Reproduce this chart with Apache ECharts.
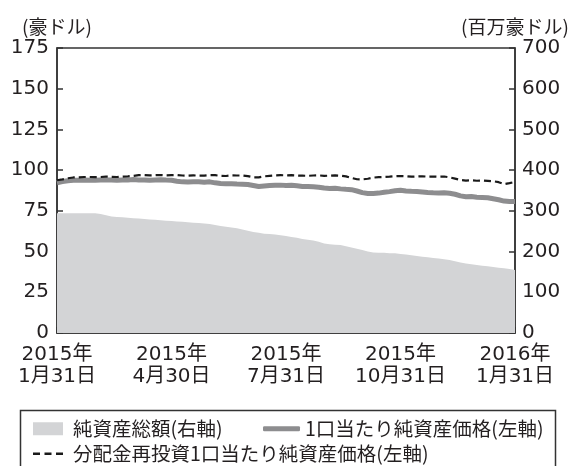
<!DOCTYPE html>
<html><head><meta charset="utf-8">
<script src="https://cdn.jsdelivr.net/npm/echarts@6/dist/echarts.min.js"></script>
<style>html,body{margin:0;padding:0;background:#fff}#c{width:573px;height:466px}</style>
</head><body><div id="c"></div>
<script>
// x positions: 85 observation points from 2015-01-31 to 2016-01-31
const tickLabels = ['2015年\n1月31日','2015年\n4月30日','2015年\n7月31日','2015年\n10月31日','2016年\n1月31日'];
const tickIndex = [0,21,42,63,84];
const categories = [];
for (let i = 0; i < 85; i++) categories.push('p' + i);

// 純資産総額 (右軸, 百万豪ドル)
const netAssets = [294,294,294,294,294,294,294,294,292,289,
  286,285,284,283,282,281,280,279,278,277,
  276,275,274,273,272,271,270,269,268,265,
  263,261,259,257,254,251,248,246,244,243,
  242,240,238,236,234,231,229,227,224,220,
  218,217,216,213,210,207,204,200,198,197,
  197,196,196,194,193,191,189,187,186,184,
  183,181,179,176,173,171,169,167,165,164,
  162,160,159,157,155];
// 1口当たり純資産価格 (左軸, 豪ドル)
const navPerUnit = [92.3,93.0,93.5,93.8,93.8,94.0,93.8,93.8,94.0,94.0,
  94.0,93.8,93.9,94.0,94.2,94.0,94.0,93.8,94.0,94.1,
  93.9,93.8,93.2,92.8,92.7,92.9,92.8,92.6,92.8,92.2,
  91.8,91.6,91.7,91.5,91.4,91.2,90.6,90.0,90.3,90.6,
  90.7,90.8,90.6,90.7,90.4,90.0,89.9,89.8,89.5,89.0,
  88.8,88.9,88.5,88.2,88.0,87.2,86.2,85.7,85.6,85.9,
  86.4,86.8,87.3,87.6,87.2,87.0,86.9,86.6,86.3,86.1,
  86.0,86.1,85.8,85.2,84.2,83.7,83.8,83.4,83.2,83.0,
  82.4,81.8,81.0,80.7,80.8];
// 分配金再投資1口当たり純資産価格 (左軸, 豪ドル)
const navReinvested = [93.8,94.3,95.0,95.5,95.6,95.8,95.8,95.7,95.8,96.0,
  95.9,95.8,96.0,96.2,96.5,96.9,97.0,96.8,96.9,97.0,
  96.8,96.9,97.0,96.7,96.6,96.8,96.6,96.6,96.9,96.9,
  96.5,96.4,96.8,96.7,96.7,96.3,95.6,95.6,96.2,96.5,
  96.8,96.9,96.8,96.9,96.7,96.6,96.5,96.7,96.8,96.5,
  96.6,96.8,96.6,96.2,95.2,94.4,94.3,94.7,95.4,95.7,
  95.8,96.0,96.3,96.4,96.3,96.0,96.1,96.2,96.0,96.1,
  96.0,96.1,95.6,94.8,94.0,93.6,93.8,93.5,93.6,93.4,
  93.2,92.6,91.4,92.0,92.8];

const seriesNames = ['純資産総額(右軸)','1口当たり純資産価格(左軸)','分配金再投資1口当たり純資産価格(左軸)'];

const txt = '#231f20';
const numFont = "'DejaVu Sans','Noto Sans CJK JP',sans-serif";
const cjkFont = "'Noto Sans CJK JP',sans-serif";
const showTick = (idx) => tickIndex.indexOf(idx) >= 0;
const dashIcon = 'path://M0,0h7v2.5h-7z M11.5,0h7v2.5h-7z M23,0h7v2.5h-7z';

const chart = echarts.init(document.getElementById('c'), null, {renderer:'canvas'});
chart.setOption({
  animation: false,
  backgroundColor: '#fff',
  grid: {left:57, right:58, top:48, bottom:133, show:true, borderColor:'#333', borderWidth:1.5, backgroundColor:'transparent'},
  xAxis: {
    type:'category', data:categories, boundaryGap:false,
    axisLine:{lineStyle:{color:'#333', width:1.5}},
    axisTick:{show:true, inside:true, length:6, interval:showTick, lineStyle:{color:'#333', width:1.5}},
    axisLabel:{interval:showTick, margin:11, color:txt, fontFamily:numFont, fontSize:20, lineHeight:22,
      formatter:(v, idx)=>{const k = tickIndex.indexOf(idx); return k>=0 ? tickLabels[k] : '';}},
    splitLine:{show:false}
  },
  yAxis: [
    {type:'value', min:0, max:175, interval:25, name:'(豪ドル)', nameLocation:'end', nameGap:12,
     nameTextStyle:{color:txt, fontFamily:cjkFont, fontSize:19},
     axisLine:{show:true, lineStyle:{color:'#333', width:1.5}},
     axisTick:{show:true, inside:true, length:6, lineStyle:{color:'#333', width:1.5}},
     axisLabel:{margin:8, color:txt, fontFamily:numFont, fontSize:20},
     splitLine:{show:false}},
    {type:'value', min:0, max:700, interval:100, name:'(百万豪ドル)', nameLocation:'end', nameGap:12,
     nameTextStyle:{color:txt, fontFamily:cjkFont, fontSize:19},
     axisLine:{show:true, lineStyle:{color:'#333', width:1.5}},
     axisTick:{show:true, inside:true, length:6, lineStyle:{color:'#333', width:1.5}},
     axisLabel:{margin:7, color:txt, fontFamily:numFont, fontSize:20},
     splitLine:{show:false}}
  ],
  legend: [
    {data:[{name:seriesNames[0], icon:'rect'}], left:33, top:419, itemWidth:30, itemHeight:13, padding:0,
     textStyle:{color:txt, fontFamily:cjkFont, fontSize:19.5, padding:[0,0,0,5]}},
    {data:[{name:seriesNames[1], icon:'roundRect'}], left:263, top:419, itemWidth:37, itemHeight:5, padding:0,
     textStyle:{color:txt, fontFamily:cjkFont, fontSize:19.5, padding:[0,0,0,0]}},
    {data:[{name:seriesNames[2], icon:dashIcon}], left:33, top:444, itemWidth:30, itemHeight:2.5, padding:0,
     textStyle:{color:txt, fontFamily:cjkFont, fontSize:19.5, padding:[0,0,0,5]}}
  ],
  graphic: [{type:'rect', left:18, top:408, shape:{width:535, height:70}, style:{fill:'none', stroke:'#333', lineWidth:1.5}, silent:true}],
  series: [
    {name:seriesNames[0], type:'line', yAxisIndex:1, data:netAssets, symbol:'none',
     lineStyle:{width:0, color:'#d3d4d6'}, itemStyle:{color:'#d3d4d6'}, areaStyle:{color:'#d3d4d6', opacity:1}, z:1},
    {name:seriesNames[1], type:'line', yAxisIndex:0, data:navPerUnit, symbol:'none',
     lineStyle:{width:5, color:'#8d8d8f'}, itemStyle:{color:'#8d8d8f'}, z:2},
    {name:seriesNames[2], type:'line', yAxisIndex:0, data:navReinvested, symbol:'none',
     lineStyle:{width:2.2, color:'#1a1a1a', type:[7,4]}, itemStyle:{color:'#1a1a1a'}, z:3}
  ]
});
</script></body></html>
